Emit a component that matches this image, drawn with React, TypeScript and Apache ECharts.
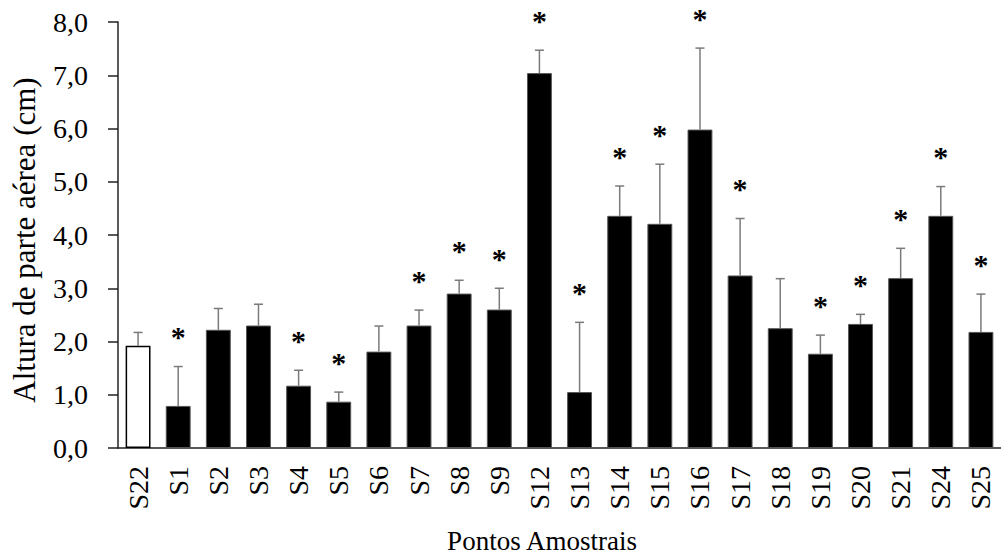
import React, { useEffect, useRef } from "react";
import * as echarts from "echarts";

const categories = ["S22","S1","S2","S3","S4","S5","S6","S7","S8","S9","S12","S13","S14","S15","S16","S17","S18","S19","S20","S21","S24","S25"];
const means = [1.92,0.79,2.22,2.30,1.17,0.87,1.81,2.30,2.90,2.60,7.04,1.05,4.36,4.21,5.98,3.24,2.25,1.77,2.33,3.19,4.36,2.18];
const errors = [0.25,0.74,0.40,0.40,0.29,0.18,0.48,0.29,0.25,0.40,0.43,1.31,0.56,1.12,1.53,1.07,0.93,0.35,0.18,0.56,0.55,0.71];
const significant = [false,true,false,false,true,true,false,true,true,true,true,true,true,true,true,true,false,true,true,true,true,true];
const yTicks = { min: 0, max: 8, interval: 1 };
const yTitle = "Altura de parte aérea (cm)";
const xTitle = "Pontos Amostrais";

const FONT = "'Liberation Serif', 'Times New Roman', serif";

export default function App() {
  const ref = useRef<HTMLDivElement>(null);
  useEffect(() => {
    const chart = echarts.init(ref.current!, null, { renderer: "svg" });
    const barData = means.map((v, i) => ({
      value: v,
      itemStyle: i === 0
        ? { color: "#ffffff", borderColor: "#000000", borderWidth: 1.5 }
        : { color: "#000000", borderColor: "#555555", borderWidth: 1 },
    }));
    const errData = means.map((v, i) => [i, v, v + errors[i], significant[i] ? 1 : 0]);
    chart.setOption({
      animation: false,
      grid: { left: 118, right: 0, top: 22, bottom: 111, containLabel: false },
      xAxis: {
        type: "category",
        data: categories,
        axisLine: { lineStyle: { color: "#222", width: 1.5 } },
        axisTick: { show: false },
        axisLabel: { rotate: 90, margin: 18, fontSize: 28, color: "#000", fontFamily: FONT },
      },
      yAxis: {
        type: "value",
        min: yTicks.min,
        max: yTicks.max,
        interval: yTicks.interval,
        splitLine: { show: false },
        axisLine: { show: true, lineStyle: { color: "#222", width: 1.5 } },
        axisTick: { show: true, length: 10, lineStyle: { color: "#222", width: 1.5 } },
        axisLabel: {
          margin: 30, fontSize: 28, color: "#000", fontFamily: FONT,
          formatter: (v: number) => v.toFixed(1).replace(".", ","),
        },
      },
      graphic: [
        {
          type: "text", x: 24, y: 240, rotation: Math.PI / 2,
          style: { text: yTitle, fontSize: 31, fontFamily: FONT, fill: "#000", align: "center", verticalAlign: "middle" },
        },
        {
          type: "text", x: 542, y: 541,
          style: { text: xTitle, fontSize: 27, fontFamily: FONT, fill: "#000", align: "center", verticalAlign: "middle" },
        },
      ],
      series: [
        { type: "bar", data: barData, barWidth: "62%" },
        {
          type: "custom",
          data: errData,
          z: 5,
          renderItem: (params: any, api: any) => {
            const x = api.value(0);
            const lo = api.coord([x, api.value(1)]);
            const hi = api.coord([x, api.value(2)]);
            const cap = 4.5;
            const style = { stroke: "#7a7a7a", lineWidth: 1.5 };
            const children: any[] = [
              { type: "line", shape: { x1: lo[0], y1: lo[1], x2: hi[0], y2: hi[1] }, style },
              { type: "line", shape: { x1: hi[0] - cap, y1: hi[1], x2: hi[0] + cap, y2: hi[1] }, style },
            ];
            if (api.value(3) === 1) {
              children.push({
                type: "text",
                style: {
                  text: "*", x: hi[0], y: hi[1] - 30, fontSize: 30, fontWeight: "bold",
                  fontFamily: FONT, fill: "#000", align: "center", verticalAlign: "middle",
                },
              });
            }
            return { type: "group", children };
          },
        },
      ],
    });
    return () => chart.dispose();
  }, []);
  return <div ref={ref} style={{ width: 1001, height: 559, position: "absolute", left: 0, top: 0 }} />;
}
